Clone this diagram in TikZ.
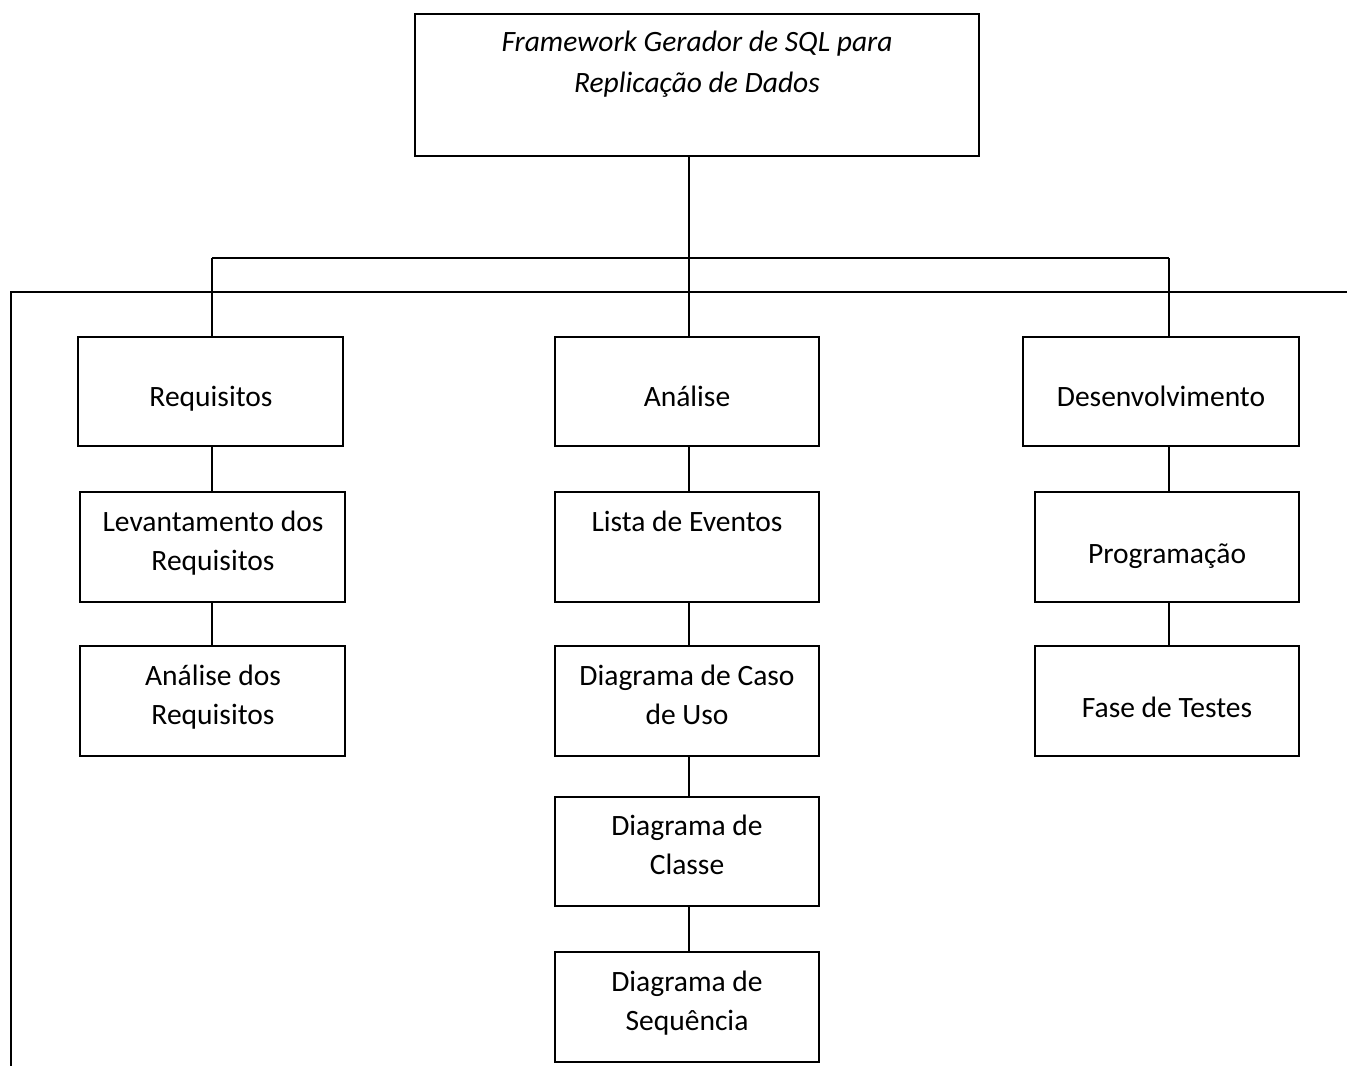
\documentclass[tikz,border=0pt]{standalone}
\usepackage{fontspec}
\setmainfont{Carlito}
\usepackage{tikz}

\tikzset{
  box/.style={draw=black, line width=1.05pt, inner sep=0pt, minimum width=5.28cm, minimum height=2.2cm},
  txt/.style={anchor=base, align=center, inner sep=0pt, font=\fontsize{16.8}{22.2}\selectfont},
  conn/.style={draw=black, line width=1.05pt}
}

\begin{document}
\begin{tikzpicture}[x=0.02cm, y=-0.02cm]
                \useasboundingbox (0,0) rectangle (1347,1066);
                % boxes
                \node [box, minimum width=11.28cm, minimum height=2.84cm] (top) at (697,85) {};
                \node [box, minimum width=5.3cm, minimum height=2.18cm] (req) at (210.5,391.5) {};
                \node [box, minimum height=2.18cm] (ana) at (687,391.5) {};
                \node [box, minimum width=5.52cm, minimum height=2.18cm] (des) at (1161,391.5) {};
                \node [box, minimum width=5.3cm] (lev) at (212.5,547) {};
                \node [box] (lis) at (687,547) {};
                \node [box] (prg) at (1167,547) {};
                \node [box, minimum width=5.3cm] (adr) at (212.5,701) {};
                \node [box] (dcu) at (687,701) {};
                \node [box] (fdt) at (1167,701) {};
                \node [box, minimum height=2.18cm] (dcl) at (687,851.5) {};
                \node [box] (dsq) at (687,1007) {};
                % texts (base = last line)
                \node [txt, font=\fontsize{16.8}{22.8}\selectfont\itshape] (ttop) at (697,92) {Framework Gerador de SQL para\\Replicação de Dados};
                \node [txt] (treq) at (211,406) {Requisitos};
                \node [txt] (tana) at (687,406) {Análise};
                \node [txt] (tdes) at (1161,406) {Desenvolvimento};
                \node [txt] (tlev) at (213,570) {Levantamento dos\\Requisitos};
                \node [txt] (tlis) at (687,531) {Lista de Eventos};
                \node [txt] (tprg) at (1167,563) {Programação};
                \node [txt] (tadr) at (213,724) {Análise dos\\Requisitos};
                \node [txt] (tdcu) at (687,724) {Diagrama de Caso\\de Uso};
                \node [txt] (tfdt) at (1167,717) {Fase de Testes};
                \node [txt] (tdcl) at (687,874) {Diagrama de\\Classe};
                \node [txt] (tdsq) at (687,1030) {Diagrama de\\Sequência};
                % connectors
                \coordinate (hub) at (689,258);
                \coordinate (barL) at (212,258);
                \coordinate (barR) at (1169,258);
                \draw [conn] (top.south -| hub) -- (hub);
                \draw [conn] (barL) -- (barR);
                \draw [conn] (barL) -- (barL |- req.north);
                \draw [conn] (hub) -- (hub |- ana.north);
                \draw [conn] (barR) -- (barR |- des.north);
                \draw [conn] (barL |- req.south) -- (barL |- lev.north);
                \draw [conn] (barL |- lev.south) -- (barL |- adr.north);
                \draw [conn] (hub |- ana.south) -- (hub |- lis.north);
                \draw [conn] (hub |- lis.south) -- (hub |- dcu.north);
                \draw [conn] (hub |- dcu.south) -- (hub |- dcl.north);
                \draw [conn] (hub |- dcl.south) -- (hub |- dsq.north);
                \draw [conn] (barR |- des.south) -- (barR |- prg.north);
                \draw [conn] (barR |- prg.south) -- (barR |- fdt.north);
                % frame line
                \draw [conn] (11,1066) -- (11,292) -- (1347,292);
              \end{tikzpicture}
\end{document}
